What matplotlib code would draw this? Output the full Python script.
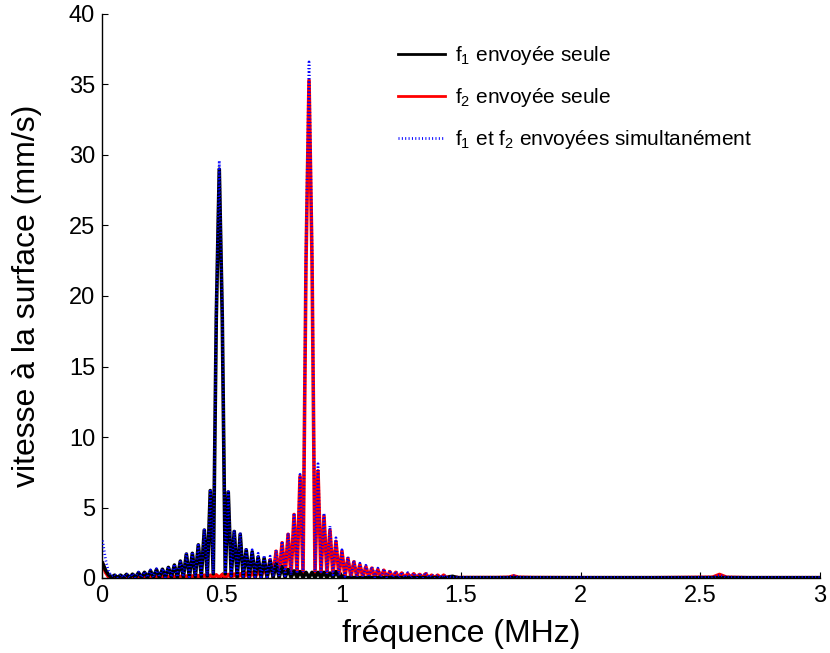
import numpy as np
import matplotlib
matplotlib.use("Agg")
import matplotlib.pyplot as plt

plt.rcParams['font.family'] = ['Liberation Sans', 'DejaVu Sans']
plt.rcParams['mathtext.fontset'] = 'custom'
plt.rcParams['mathtext.rm'] = 'Liberation Sans'
plt.rcParams['mathtext.default'] = 'regular'

# grille fréquentielle (MHz) : pas de la FFT
f_start = 0.0025
f_step = 0.0125
n_bins = 121

# fréquences ajoutées au-delà de 1.5 MHz (spectre quasi nul)
tail_freq = [1.55, 1.65, 1.70, 1.72, 1.74, 1.80, 2.00, 2.30, 2.55, 2.58, 2.61, 2.70, 3.00]

# f1 envoyée seule (mm/s)
f1_seule = [
    1.05, 0.55, 0.22, 0.04, 0.20, 0.03, 0.20, 0.03, 0.26, 0.03,
    0.27, 0.03, 0.38, 0.04, 0.40, 0.04, 0.52, 0.05, 0.60, 0.05,
    0.62, 0.05, 0.75, 0.06, 0.92, 0.06, 1.20, 0.08, 1.70, 0.08,
    1.75, 0.10, 2.35, 0.10, 3.40, 0.15, 6.20, 0.30, 18.5, 29.0,
    18.5, 0.30, 6.10, 0.15, 3.30, 0.10, 3.10, 0.10, 2.00, 0.08,
    1.85, 0.08, 1.50, 0.06, 1.40, 0.06, 1.20, 0.05, 1.00, 0.05,
    0.80, 0.04, 0.60, 0.04, 0.50, 0.04, 0.45, 0.03, 0.40, 0.03,
    0.40, 0.03, 0.40, 0.03, 0.40, 0.03, 0.35, 0.03, 0.45, 0.05,
    0.15, 0.03, 0.03, 0.02, 0.03, 0.02, 0.03, 0.02, 0.03, 0.02,
    0.03, 0.02, 0.03, 0.02, 0.03, 0.02, 0.03, 0.02, 0.03, 0.02,
    0.03, 0.02, 0.03, 0.02, 0.03, 0.02, 0.03, 0.02, 0.03, 0.02,
    0.03, 0.02, 0.03, 0.02, 0.03, 0.02, 0.08, 0.12, 0.05, 0.02,
    0.02,
]
f1_tail = [0.02, 0.02, 0.02, 0.02, 0.02, 0.02, 0.02, 0.02, 0.02, 0.02, 0.02, 0.02, 0.02]

# f2 envoyée seule (mm/s)
f2_seule = [
    1.00, 0.40, 0.08, 0.02, 0.08, 0.02, 0.08, 0.02, 0.08, 0.02,
    0.08, 0.02, 0.09, 0.02, 0.09, 0.02, 0.10, 0.02, 0.10, 0.02,
    0.10, 0.02, 0.10, 0.02, 0.12, 0.02, 0.12, 0.02, 0.14, 0.02,
    0.15, 0.02, 0.17, 0.02, 0.20, 0.02, 0.20, 0.03, 0.22, 0.03,
    0.25, 0.03, 0.25, 0.03, 0.28, 0.03, 0.30, 0.03, 0.35, 0.04,
    0.40, 0.04, 0.55, 0.05, 0.90, 0.06, 1.30, 0.08, 1.90, 0.10,
    2.50, 0.15, 3.10, 0.20, 4.50, 0.30, 7.20, 0.40, 22.5, 35.3,
    22.5, 0.40, 7.60, 0.30, 4.40, 0.25, 3.40, 0.20, 2.60, 0.15,
    1.90, 0.10, 1.40, 0.08, 1.15, 0.06, 0.95, 0.05, 0.80, 0.05,
    0.70, 0.04, 0.60, 0.04, 0.55, 0.04, 0.45, 0.03, 0.40, 0.03,
    0.35, 0.03, 0.30, 0.03, 0.30, 0.03, 0.25, 0.03, 0.30, 0.03,
    0.20, 0.02, 0.20, 0.02, 0.20, 0.02, 0.10, 0.02, 0.05, 0.02,
    0.03,
]
f2_tail = [0.03, 0.03, 0.05, 0.15, 0.05, 0.03, 0.02, 0.02, 0.05, 0.25, 0.05, 0.02, 0.02]

# f1 et f2 envoyées simultanément (mm/s)
f1f2_simult = [
    2.65, 1.30, 0.45, 0.15, 0.25, 0.05, 0.25, 0.05, 0.30, 0.05,
    0.32, 0.05, 0.42, 0.05, 0.45, 0.05, 0.58, 0.06, 0.66, 0.06,
    0.68, 0.06, 0.82, 0.07, 0.98, 0.07, 1.28, 0.09, 1.78, 0.09,
    1.85, 0.11, 2.45, 0.11, 3.50, 0.16, 6.30, 0.30, 19.0, 29.6,
    19.0, 0.30, 6.25, 0.16, 3.40, 0.12, 3.25, 0.12, 2.15, 0.10,
    2.00, 0.10, 1.75, 0.09, 1.60, 0.09, 1.55, 0.10, 2.00, 0.12,
    2.60, 0.16, 3.20, 0.22, 4.60, 0.32, 7.35, 0.42, 23.3, 36.6,
    23.3, 0.42, 8.10, 0.32, 4.60, 0.27, 3.70, 0.22, 2.85, 0.17,
    2.00, 0.11, 1.50, 0.09, 1.25, 0.07, 1.05, 0.06, 0.90, 0.06,
    0.80, 0.05, 0.70, 0.05, 0.65, 0.05, 0.55, 0.04, 0.48, 0.04,
    0.42, 0.04, 0.38, 0.04, 0.35, 0.04, 0.33, 0.04, 0.40, 0.04,
    0.25, 0.03, 0.22, 0.03, 0.22, 0.03, 0.12, 0.03, 0.08, 0.03,
    0.05,
]
f1f2_tail = [0.05, 0.05, 0.06, 0.15, 0.06, 0.05, 0.05, 0.05, 0.06, 0.20, 0.06, 0.05, 0.05]

x_ticks = [0, 0.5, 1, 1.5, 2, 2.5, 3]
x_ticklabels = ['0', '0.5', '1', '1.5', '2', '2.5', '3']
y_ticks = [0, 5, 10, 15, 20, 25, 30, 35, 40]

freq = np.concatenate([f_start + f_step * np.arange(n_bins), tail_freq])
s1 = np.concatenate([f1_seule, f1_tail])
s2 = np.concatenate([f2_seule, f2_tail])
s12 = np.concatenate([f1f2_simult, f1f2_tail])

fig = plt.figure(figsize=(8.3, 6.53), dpi=100)
ax = fig.add_axes([102 / 830, 75 / 653, 718 / 830, 564 / 653])

l2, = ax.plot(freq, s2, color='red', lw=2.6, label='f$_2$ envoyée seule', zorder=2)
l1, = ax.plot(freq, s1, color='black', lw=2.6, label='f$_1$ envoyée seule', zorder=3)
l3, = ax.plot(freq, s12, color='blue', lw=2.0, linestyle=(0, (0.36, 0.85)),
              label='f$_1$ et f$_2$ envoyées simultanément', zorder=4)

ax.set_xlim(0, 3)
ax.set_ylim(0, 40)
ax.set_xticks(x_ticks)
ax.set_xticklabels(x_ticklabels)
ax.set_yticks(y_ticks)

ax.spines['top'].set_visible(False)
ax.spines['right'].set_visible(False)
ax.spines['left'].set_linewidth(1.0)
ax.spines['bottom'].set_linewidth(1.0)
ax.tick_params(direction='in', length=4.5, width=0.8, labelsize=17, pad=5)

ax.set_xlabel('fréquence (MHz)', fontsize=23)
ax.set_ylabel('vitesse à la surface (mm/s)', fontsize=23)
ax.xaxis.set_label_coords(0.5, -0.072)
ax.yaxis.set_label_coords(-0.084, 0.5)

leg = ax.legend(handles=[l1, l2, l3], loc='upper left', bbox_to_anchor=(0.412, 0.947),
                frameon=False, fontsize=15, handlelength=2.25, handletextpad=0.5,
                labelspacing=0.92, borderpad=0, borderaxespad=0)
for h in leg.get_lines()[:2]:
    h.set_linewidth(2.0)

fig.savefig('out.png', dpi=100)
